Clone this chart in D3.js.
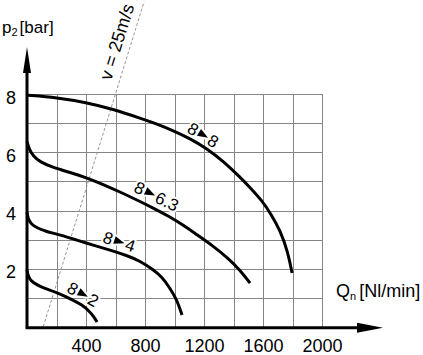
<!DOCTYPE html>
<html>
<head>
<meta charset="utf-8">
<script src="https://cdn.jsdelivr.net/npm/d3@7"></script>
<style>
  html, body { margin: 0; padding: 0; background: #fff; }
  svg { display: block; font-family: "Liberation Sans", Arial, Helvetica, sans-serif; }
</style>
</head>
<body>
<svg id="chart" width="423" height="355"></svg>
<script>
// ---- data ----
const qTicks = [400, 800, 1200, 1600, 2000];
const pTicks = [2, 4, 6, 8];
const gridQ = [0, 200, 400, 600, 800, 1000, 1200, 1400, 1600, 1800, 2000];
const gridP = [1, 2, 3, 4, 5, 6, 7, 8];

// curves: [Q (Nl/min), p2 (bar)]
const curve8to8 = [[0,7.97],[203,7.89],[400,7.72],[583,7.49],[766,7.18],[882,6.98],[990,6.75],[1105,6.48],[1220,6.13],[1329,5.70],[1444,5.15],[1512,4.79],[1593,4.34],[1654,3.88],[1715,3.33],[1769,2.57],[1797,1.85]];
const curve8to63 = [[0,6.38],[14,6.12],[41,5.88],[88,5.67],[176,5.48],[292,5.31],[407,5.12],[515,4.90],[630,4.64],[746,4.36],[854,4.09],[970,3.78],[1058,3.50],[1153,3.16],[1261,2.78],[1363,2.36],[1444,1.95],[1512,1.50]];
const curve8to4 = [[0,3.95],[7,3.71],[27,3.54],[68,3.40],[122,3.29],[224,3.16],[339,2.98],[448,2.81],[563,2.64],[678,2.45],[766,2.26],[854,1.97],[915,1.71],[969,1.33],[1017,0.92],[1051,0.40]];
const curve8to2 = [[0,1.95],[7,1.75],[27,1.57],[68,1.44],[122,1.31],[203,1.18],[312,0.92],[373,0.75],[421,0.54],[455,0.33],[475,0.16]];

const curveNames = ["8", "6.3", "4", "2"];
const labelQ = [1195, 835, 625, 380];
const labelP = [6.60, 4.60, 2.93, 1.12];

// v = 25 m/s reference line
const speedLine = [[110, 0], [794, 11.19]];
const speedText = "v = 25m/s";

// ---- drawing ----
const svg = d3.select("#chart");
svg.append("rect").attr("width", 423).attr("height", 355).attr("fill", "#fff");

const x = d3.scaleLinear().domain([0, 2000]).range([27, 322]);
const y = d3.scaleLinear().domain([0, 8]).range([326.7, 94.3]);

// grid
const gridV = svg.append("g")
  .attr("transform", `translate(0,${y(0)})`)
  .call(d3.axisBottom(x).tickValues(gridQ).tickSize(-(y(0) - y(8))).tickFormat(""));
gridV.select(".domain").remove();
gridV.selectAll("line").attr("stroke", "#858585").attr("stroke-width", 1).attr("shape-rendering", "crispEdges");

const gridH = svg.append("g")
  .attr("transform", `translate(${x(0)},0)`)
  .call(d3.axisLeft(y).tickValues(gridP).tickSize(-(x(2000) - x(0))).tickFormat(""));
gridH.select(".domain").remove();
gridH.selectAll("line").attr("stroke", "#858585").attr("stroke-width", 1).attr("shape-rendering", "crispEdges");

// speed line
svg.append("line")
  .attr("x1", x(speedLine[0][0])).attr("y1", y(speedLine[0][1]))
  .attr("x2", x(speedLine[1][0])).attr("y2", y(speedLine[1][1]))
  .attr("stroke", "#8a8a8a").attr("stroke-width", 0.9).attr("stroke-dasharray", "3,2");
const ang = Math.atan2(y(speedLine[1][1]) - y(speedLine[0][1]), x(speedLine[1][0]) - x(speedLine[0][0])) * 180 / Math.PI;
svg.append("text")
  .attr("transform", `translate(${x(570)},${y(8.45)}) rotate(${ang})`)
  .attr("font-size", 18)
  .attr("fill", "#000")
  .text(speedText);

// curve labels (drawn before curves, with white halo masking the grid)
const curves = [curve8to8, curve8to63, curve8to4, curve8to2];
const labelAngle = [31, 26, 18, 29];
curves.forEach((c, i) => {
  const g = svg.append("g")
    .attr("transform", `translate(${x(labelQ[i])},${y(labelP[i])}) rotate(${labelAngle[i]})`);
  const halo = sel => sel.attr("stroke", "#fff").attr("stroke-width", 4).attr("stroke-linejoin", "round").attr("paint-order", "stroke");
  g.append("text").attr("x", -7).attr("dy", "0.36em").attr("text-anchor", "end")
    .attr("font-size", 17).attr("fill", "#000").call(halo).text("8");
  g.append("path").attr("d", "M-5,-4L5.5,0L-5,4Z").attr("fill", "#000").call(halo);
  g.append("text").attr("x", 7).attr("dy", "0.36em").attr("text-anchor", "start")
    .attr("font-size", 17).attr("fill", "#000").call(halo).text(curveNames[i]);
});

// curves
const line = d3.line().x(d => x(d[0])).y(d => y(d[1])).curve(d3.curveBasis);
curves.forEach(c => {
  svg.append("path").attr("d", line(c)).attr("fill", "none")
    .attr("stroke", "#000").attr("stroke-width", 3).attr("stroke-linecap", "butt");
});

// axes lines with arrows
svg.append("line").attr("x1", x(0)).attr("y1", y(0)).attr("x2", x(0)).attr("y2", 70)
  .attr("stroke", "#000").attr("stroke-width", 3);
svg.append("path").attr("d", `M${x(0)},47L${x(0) + 4},73L${x(0) - 4},73Z`).attr("fill", "#000");
svg.append("line").attr("x1", x(0) - 1.5).attr("y1", y(0) + 1).attr("x2", 360).attr("y2", y(0) + 1)
  .attr("stroke", "#000").attr("stroke-width", 3);
svg.append("path").attr("d", `M383,${y(0) + 1}L357,${y(0) - 4}L357,${y(0) + 6}Z`).attr("fill", "#000");

// tick labels
const xAx = svg.append("g").attr("transform", `translate(0,${y(0)})`)
  .call(d3.axisBottom(x).tickValues(qTicks).tickSize(0).tickFormat(d3.format("d")));
xAx.select(".domain").remove();
xAx.selectAll("text").attr("y", 13).attr("dy", "0.71em").attr("font-size", 18)
  .attr("font-family", null).attr("fill", "#000");

const yAx = svg.append("g").attr("transform", `translate(${x(0)},0)`)
  .call(d3.axisLeft(y).tickValues(pTicks).tickSize(0).tickFormat(d3.format("d")));
yAx.select(".domain").remove();
yAx.selectAll("text").attr("x", -11).attr("y", 3).attr("dy", "0.35em").attr("font-size", 18)
  .attr("font-family", null).attr("fill", "#000");

// axis titles
const pt = svg.append("text").attr("x", 2).attr("y", 33).attr("font-size", 17).attr("fill", "#000");
pt.append("tspan").text("p");
pt.append("tspan").attr("font-size", 11).attr("dy", 3).text("2");
pt.append("tspan").attr("dy", -3).attr("dx", 2).text("[bar]");

const qt = svg.append("text").attr("x", 336).attr("y", 297).attr("font-size", 18).attr("fill", "#000");
qt.append("tspan").text("Q");
qt.append("tspan").attr("font-size", 11).attr("dy", 3).text("n");
qt.append("tspan").attr("dy", -3).attr("dx", 3).text("[Nl/min]");
</script>
</body>
</html>
